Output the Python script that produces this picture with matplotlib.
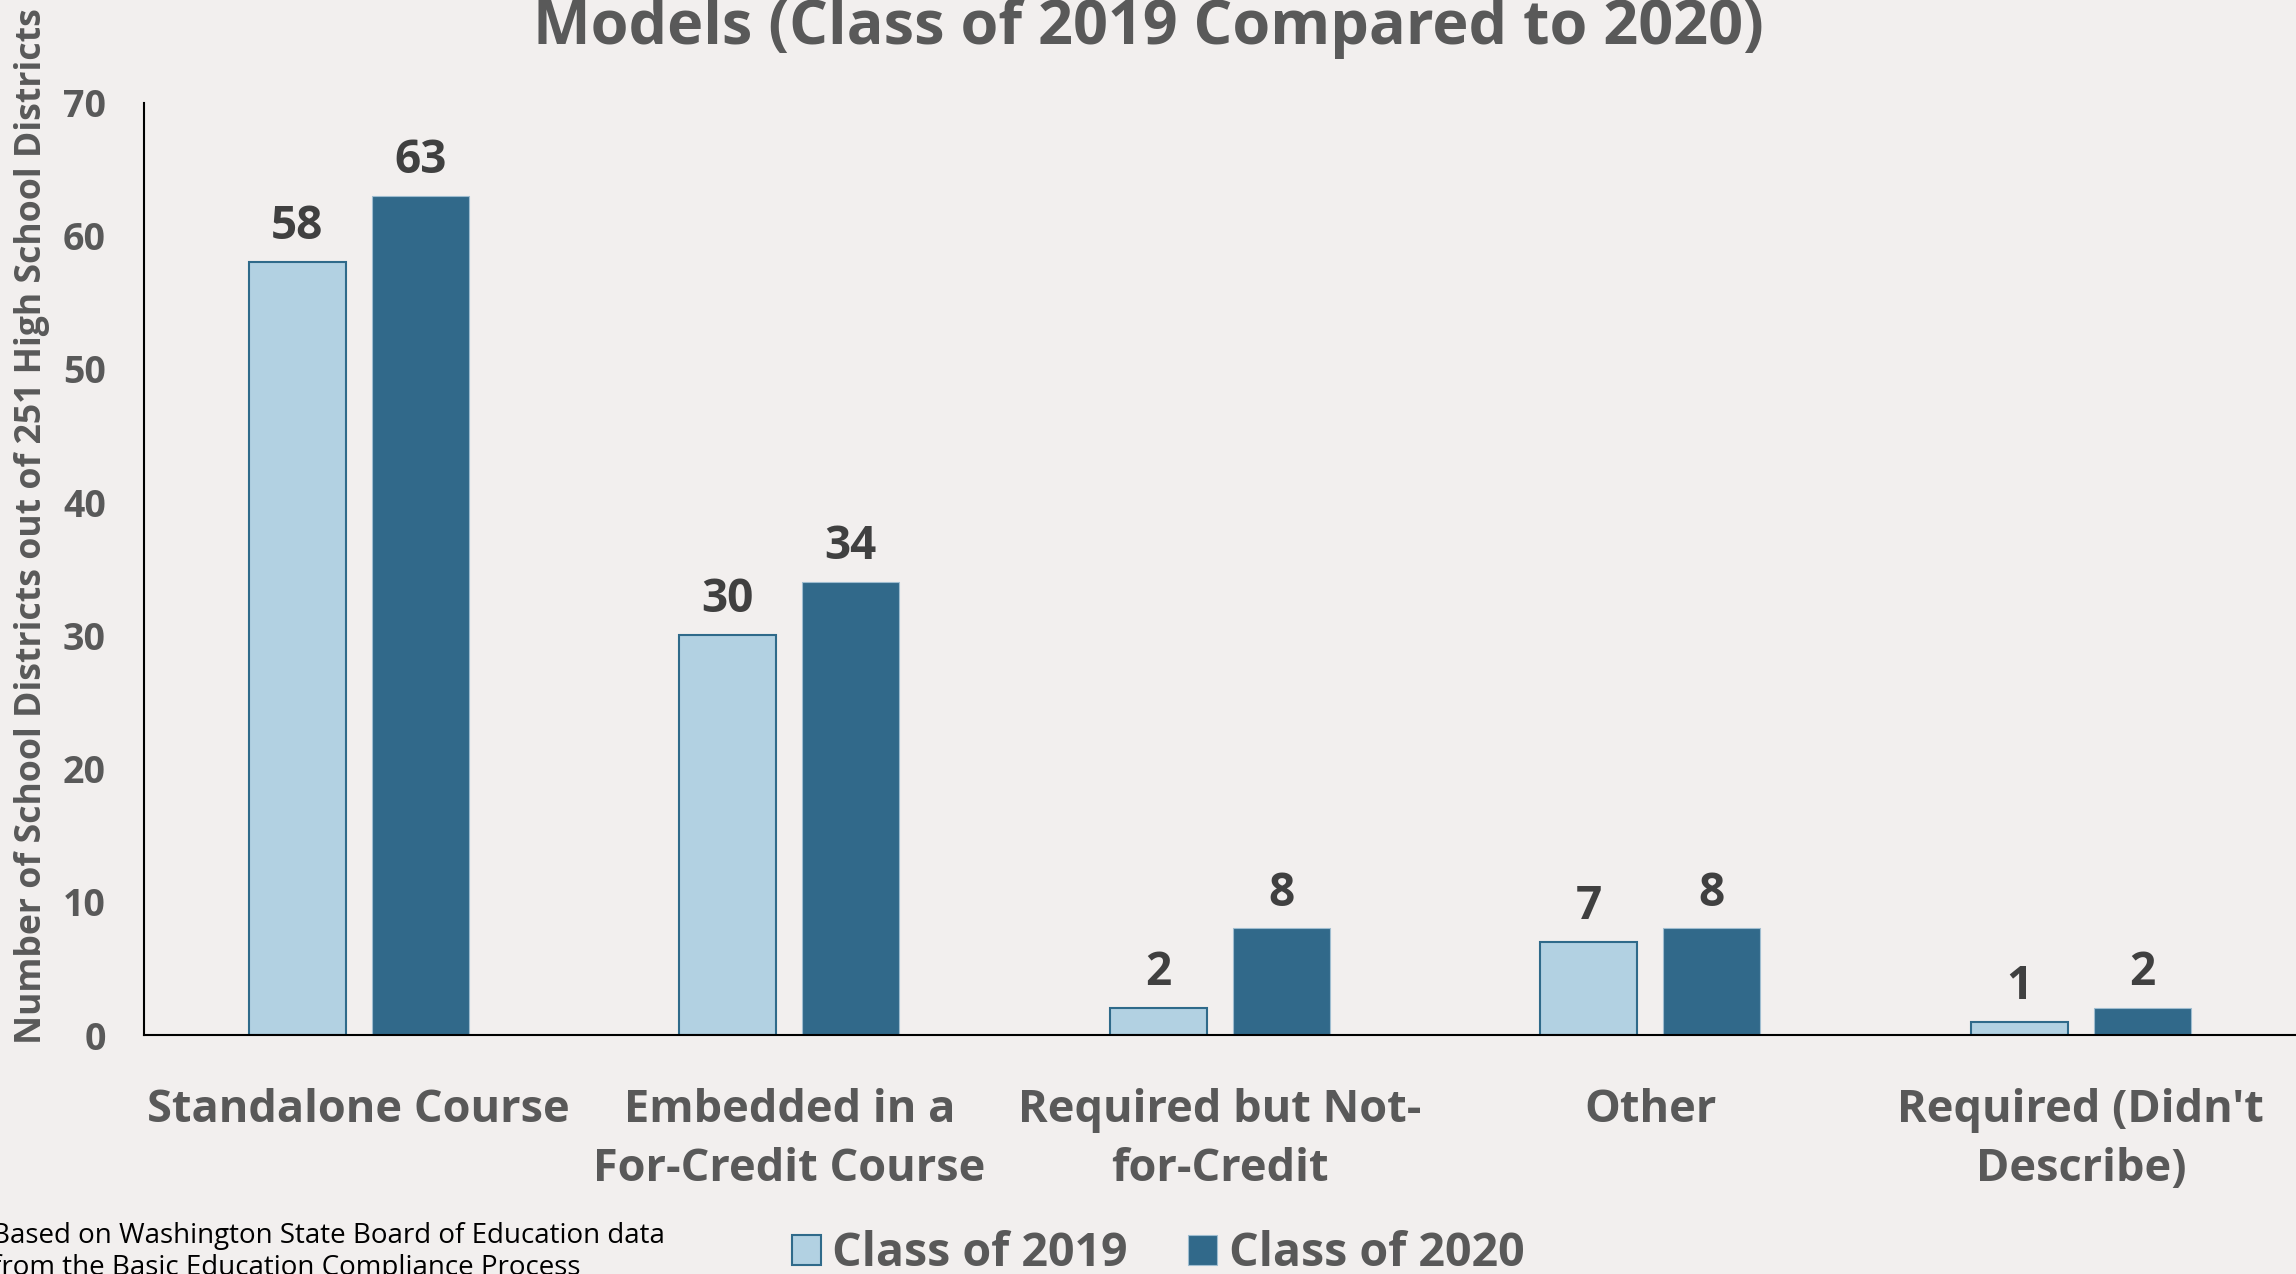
import matplotlib
matplotlib.use('Agg')
import matplotlib.pyplot as plt
import numpy as np

categories = ['Standalone Course', 'Embedded in a\nFor-Credit Course', 'Required but Not-\nfor-Credit',
              'Other', "Required (Didn't\nDescribe)"]
class_2019 = [58, 30, 2, 7, 1]
class_2020 = [63, 34, 8, 8, 2]
series_names = ['Class of 2019', 'Class of 2020']
yticks = [0, 10, 20, 30, 40, 50, 60, 70]

plt.rcParams['font.family'] = ['Open Sans', 'DejaVu Sans']
bg = '#f2efee'
grey = '#595959'
light = '#b2d1e2'
dark = '#31698a'

W, H = 2296, 1274
fig = plt.figure(figsize=(W / 100, H / 100), dpi=100, facecolor=bg)
ax = fig.add_axes([143.5 / W, 1 - 1035 / H, (W - 143.5) / W, (1035 - 102.5) / H])
ax.set_facecolor(bg)

x = np.arange(len(categories))
bw = 0.225
off = 0.143
b1 = ax.bar(x - off, class_2019, bw, color=light, edgecolor='#2f6a8a', linewidth=1.5, label=series_names[0])
b2 = ax.bar(x + off, class_2020, bw, color=dark, edgecolor='#9fbdd0', linewidth=0.8, label=series_names[1])

for bars, vals in [(b1, class_2019), (b2, class_2020)]:
    for r, v in zip(bars, vals):
        ax.annotate(str(v), (r.get_x() + r.get_width() / 2, v), xytext=(0, 16.5),
                    textcoords='offset points', ha='center', va='baseline',
                    fontsize=33, fontweight='bold', color='#404040')

ax.set_xlim(-0.5, 4.5)
ax.set_ylim(0, 70)
ax.set_yticks(yticks)
ax.set_xticks(x)
ax.set_xticklabels(categories, fontsize=32.5, fontweight='bold', color=grey, linespacing=1.42)
ax.tick_params(axis='x', length=0, pad=38)
ax.tick_params(axis='y', length=0, pad=27, labelsize=27, labelcolor=grey)
for t in ax.get_yticklabels():
    t.set_fontweight('bold')
for s in ['top', 'right']:
    ax.spines[s].set_visible(False)
for s in ['left', 'bottom']:
    ax.spines[s].set_linewidth(1.5)
    ax.spines[s].set_color('black')

fig.text(0.5, 1 - 44 / H, 'Models (Class of 2019 Compared to 2020)', ha='center', va='baseline',
         fontsize=44, fontweight='bold', color=grey)
fig.text(32 / W, 1 - 1044 / H, 'Number of School Districts out of 251 High School Districts',
         rotation=90, ha='center', va='bottom', fontsize=25.7, fontweight='bold', color=grey)
fig.text(-8 / W, 1 - 1275 / H, 'Based on Washington State Board of Education data\nfrom the Basic Education Compliance Process',
         ha='left', va='baseline', fontsize=20, color='black', linespacing=1.2)

fig.legend(handles=[b1, b2], loc='center', bbox_to_anchor=(1158 / W, 1 - 1254 / H), ncol=2,
           frameon=False, prop={'size': 33.5, 'weight': 'bold'}, labelcolor=grey,
           handlelength=0.62, handleheight=0.62, handletextpad=0.25, columnspacing=1.3)

fig.savefig('out.png', dpi=100, facecolor=bg)
